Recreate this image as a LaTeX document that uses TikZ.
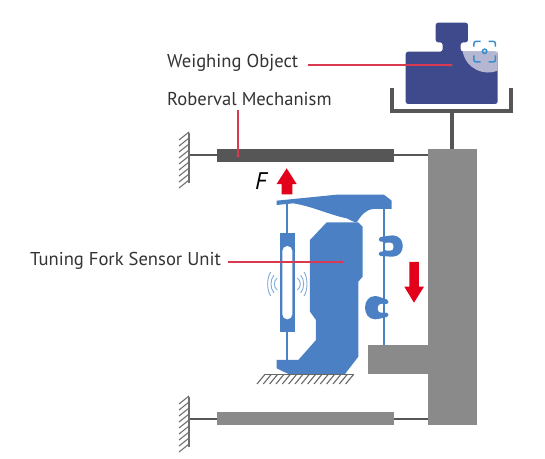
\documentclass[tikz,border=0pt]{standalone}
\usepackage{fontspec}
\setmainfont{PT Sans}
\definecolor{navy}{HTML}{3F4A8C}
\definecolor{lightnavy}{HTML}{B4B6D2}
\definecolor{iconblue}{HTML}{3A8CCB}
\definecolor{fork}{HTML}{4C80C4}
\definecolor{arcblue}{HTML}{7FABD8}
\definecolor{pillar}{HTML}{8A8A8A}
\definecolor{dark}{HTML}{565656}
\definecolor{leader}{HTML}{D93A52}
\definecolor{arrowred}{HTML}{E2001A}
\tikzset{
  lbl/.style={inner sep=0pt,font=\fontsize{18.6pt}{20pt}\selectfont,text=black!80,anchor=west},
  leaderline/.style={draw=leader,line width=1.3pt},
  rod/.style={draw=dark,line width=1.7pt},
  hatchline/.style={draw=dark!85,line width=1.1pt},
  bigarrow/.style={fill=arrowred,draw=none},
  zoomA/.style={shift={(370,10)},x=0.3333pt,y=-0.3333pt},
  zoomB/.style={shift={(230,160)},x=0.3333pt,y=-0.3333pt},
  thin fork/.style={draw=fork,line width=2pt},
  vib/.style={draw=arcblue,line width=0.9pt}
}
\begin{document}
\begin{tikzpicture}[x=1pt,y=-1pt,line join=miter]
\useasboundingbox (0,0) rectangle (545,458);
% pillar and bracket
\fill[pillar] (428,149) rectangle (477,425);
\fill[pillar] (368,345) rectangle (428,374);
% tray
\draw[dark,line width=3.4pt] (392,88) -- (392,111) -- (511,111) -- (511,88);
\draw[dark,line width=3.4pt] (452,111) -- (452,149);
% object
\begin{scope}[zoomA]
\fill[navy,rounded corners=2.5pt] (107,282) -- (107,125) -- (218,125) -- (218,97) -- (197,97) -- (197,38) -- (294,38) -- (294,97) -- (272,97) -- (272,125) -- (383,125) -- (383,282) -- cycle;
\fill[lightnavy] (278,125) -- (383,125) -- (383,182) .. controls (345,198) and (290,180) .. (278,125) -- cycle;
\begin{scope}[iconblue,line width=1.5pt]
\draw[rounded corners=2pt] (312,110) -- (312,94) -- (332,94);
\draw[rounded corners=2pt] (356,94) -- (376,94) -- (376,110);
\draw[rounded corners=2pt] (312,136) -- (312,156) -- (332,156);
\draw[rounded corners=2pt] (356,156) -- (376,156) -- (376,136);
\draw (344,124) circle (2.2pt);
\end{scope}
\end{scope}
% beams
\draw[rod] (189,155) -- (428,155);
\draw[rod] (189,419) -- (428,419);
\fill[dark] (217,149) rectangle (394,162);
\fill[pillar] (217,412) rectangle (394,425);
\draw[hatchline] (189,133) -- (189,183);
\foreach \y in {138,144,...,186} \draw[hatchline] (189,\y-6) -- (179,\y+2);
\draw[hatchline] (189,397) -- (189,447);
\foreach \y in {402,408,...,450} \draw[hatchline] (189,\y-6) -- (179,\y+2);
% sensor
\begin{scope}[zoomB]
% flexures
\fill[fork,rounded corners=1.5pt] (447,232) -- (485,226) .. controls (528,228) and (528,288) .. (485,290) -- (447,288) -- (447,275) -- (462,275) -- (462,245) -- (447,245) -- cycle;
\fill[white,rounded corners=3pt] (462,248) -- (490,248) -- (490,272) -- (462,272) -- cycle;
\fill[fork,rounded corners=1.5pt] (475,420) -- (440,408) .. controls (395,408) and (395,478) .. (440,478) -- (475,470) -- (475,458) -- (462,458) -- (462,432) -- (475,432) -- cycle;
\fill[white,rounded corners=3pt] (475,432) -- (444,432) -- (444,458) -- (475,458) -- cycle;
\draw[thin fork] (172,130) -- (172,605);
\draw[thin fork] (462,140) -- (462,555);
\fill[fork] (150,218) rectangle (195,515);
\fill[white,rounded corners=5pt] (157,258) rectangle (187,478);
\fill[fork] (140,122) -- (320,104) -- (462,104) -- (485,122) -- (485,147) -- (430,147) .. controls (405,150) and (395,165) .. (380,187) -- (375,187) -- (350,175) .. controls (300,165) and (250,140) .. (190,130) -- (140,135) -- cycle;
\fill[fork] (290,187) -- (385,187) -- (398,200) -- (398,350) -- (385,365) -- (385,590) -- (345,642) -- (175,642) -- (140,625) -- (140,600) -- (205,600) -- (258,540) -- (258,480) -- (240,455) -- (240,240) -- cycle;
% vibration arcs
\foreach \r/\h in {22/18,32/27,42/36} {
  \draw[vib] (172-\r-8,372-\h) .. controls (172-\r-20,372-\h/2) and (172-\r-20,372+\h/2) .. (172-\r-8,372+\h);
  \draw[vib] (172+\r+8,372-\h) .. controls (172+\r+20,372-\h/2) and (172+\r+20,372+\h/2) .. (172+\r+8,372+\h);
}
% ground
\draw[draw=dark!90,line width=1.1pt] (105,643) -- (372,643);
\foreach \x in {105,124,...,372} \draw[draw=dark!90,line width=1.1pt] (\x,643) -- (\x-24,672);
% arrows
\fill[bigarrow] (155,103) -- (155,72) -- (140,72) -- (170,25) -- (200,72) -- (187,72) -- (187,103) -- cycle;
\fill[bigarrow] (538,306) -- (538,380) -- (523,380) -- (552,428) -- (582,380) -- (567,380) -- (567,306) -- cycle;
\end{scope}
% labels
\node[lbl] (weigh) at (167,63) {Weighing Object};
\node[lbl] (rober) at (167,99) {Roberval Mechanism};
\node[lbl] (tuning) at (30,261) {Tuning Fork Sensor Unit};
\node[inner sep=0pt,font=\fontsize{24pt}{26pt}\selectfont\itshape,text=black] (force) at (261,181) {F};
\coordinate (wend) at (451,65);
\coordinate (rend) at (238,156);
\coordinate (tend) at (342,262);
\coordinate (wstart) at (308,65);
\coordinate (rstart) at (238,110);
\coordinate (tstart) at (228,262);
\draw[leaderline] (wstart) -- (wend);
\draw[leaderline] (rstart) -- (rend);
\draw[leaderline] (tstart) -- (tend);
\fill[leader] (wend) circle (1.6pt) (rend) circle (1.6pt) (tend) circle (1.6pt);
\end{tikzpicture}
\end{document}
